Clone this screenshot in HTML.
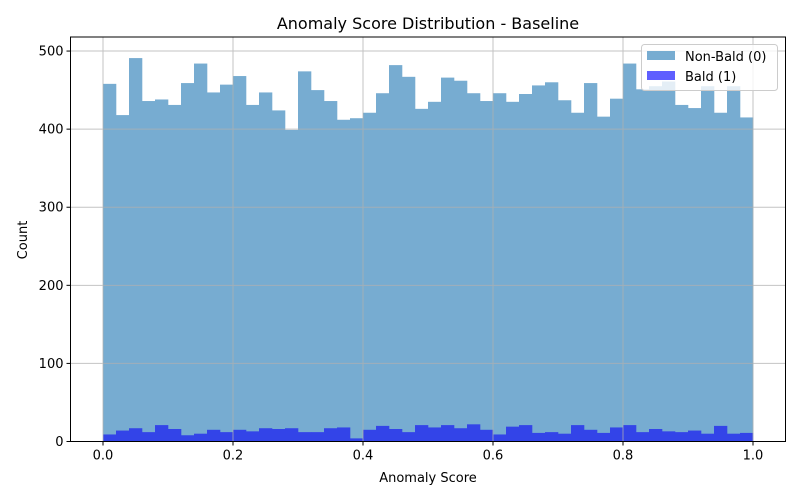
<!DOCTYPE html>
<html><head><meta charset="utf-8"><style>body{margin:0;background:#fff}svg{display:block;font-family:"DejaVu Sans","Liberation Sans",sans-serif}</style></head>
<body>
<svg id="c" width="800" height="500"></svg>
<script>
const binEdgesStart = 0, binEdgesEnd = 1, binCount = 50;
const nonBaldCounts = [458,418,491,436,438,431,459,484,447,457,468,431,447,424,399,474,450,436,412,414,421,446,482,467,426,435,466,462,446,436,446,435,445,456,460,437,421,459,416,439,484,451,455,461,431,427,455,421,455,415];
const baldCounts = [9,14,17,12,21,16,8,10,15,12,15,13,17,16,17,12,12,17,18,4,15,20,16,12,21,18,21,17,22,15,9,19,21,11,12,10,21,15,11,18,21,12,16,13,12,14,10,20,10,11];
const xTicks = [0,0.2,0.4,0.6,0.8,1.0];
const xTickLabels = ["0.0","0.2","0.4","0.6","0.8","1.0"];
const yTicks = [0,100,200,300,400,500];

const NS="http://www.w3.org/2000/svg", svg=document.getElementById('c');
const L=70.5,R=785.5,T=37,B=441.5;
const x=v=>L+(v+0.05)/1.1*(R-L);
const y=v=>B-v/518*(B-T);
function mk(t,a,p){const e=document.createElementNS(NS,t);for(const k in a)e.setAttribute(k,a[k]);(p||svg).appendChild(e);return e;}
const w=(binEdgesEnd-binEdgesStart)/binCount;
const gb=mk('g',{});


nonBaldCounts.forEach((c,i)=>{const r=mk('rect',{x:x(i*w),y:y(c),width:x((i+1)*w)-x(i*w)+0.3,height:y(0)-y(c),fill:'#77acd1'},gb);

});
const gb2=mk('g',{});


baldCounts.forEach((c,i)=>{const r=mk('rect',{x:x(i*w),y:y(c),width:x((i+1)*w)-x(i*w)+0.3,height:y(0)-y(c),fill:'#3344e8'},gb2);

});
const gg=mk('g',{stroke:'#b0b0b0','stroke-width':1,opacity:0.75});


xTicks.forEach(t=>mk('line',{x1:x(t),x2:x(t),y1:T,y2:B},gg));
yTicks.forEach(t=>mk('line',{x1:L,x2:R,y1:y(t),y2:y(t)},gg));
const fr=mk('rect',{x:L,y:T,width:R-L,height:B-T,fill:'none',stroke:'#000','stroke-width':1});


xTicks.forEach((t,i)=>{mk('line',{x1:x(t),x2:x(t),y1:B,y2:B+4,stroke:'#000'});
const tx=mk('text',{x:x(t),y:B+18,'font-size':13,'text-anchor':'middle'});tx.textContent=xTickLabels[i];

});
yTicks.forEach(t=>{mk('line',{x1:L-4,x2:L,y1:y(t),y2:y(t),stroke:'#000'});
const tx=mk('text',{x:L-7,y:y(t)+4.5,'font-size':13,'text-anchor':'end'});tx.textContent=t;

});
</script>
<svg width="800" height="500" style="position:absolute;left:0;top:0;font-family:'DejaVu Sans','Liberation Sans',sans-serif">
<text x="428" y="29" font-size="16" text-anchor="middle">Anomaly Score Distribution - Baseline</text>
<text x="428" y="482" font-size="13" text-anchor="middle">Anomaly Score</text>
<text x="27" y="240" font-size="13" text-anchor="middle" transform="rotate(-90 27 240)">Count</text>
<g>
<rect x="641.5" y="44.5" width="136" height="46" rx="3" fill="#fff" fill-opacity="0.8" stroke="#ccc"/>
<rect x="647" y="51" width="28" height="9" fill="#77acd1"/>
<text x="685" y="61" font-size="13">Non-Bald (0)</text>
<rect x="647" y="71" width="28" height="9" fill="#5f5fff"/>
<text x="685" y="81" font-size="13">Bald (1)</text>
</g>
</svg>
</body></html>
